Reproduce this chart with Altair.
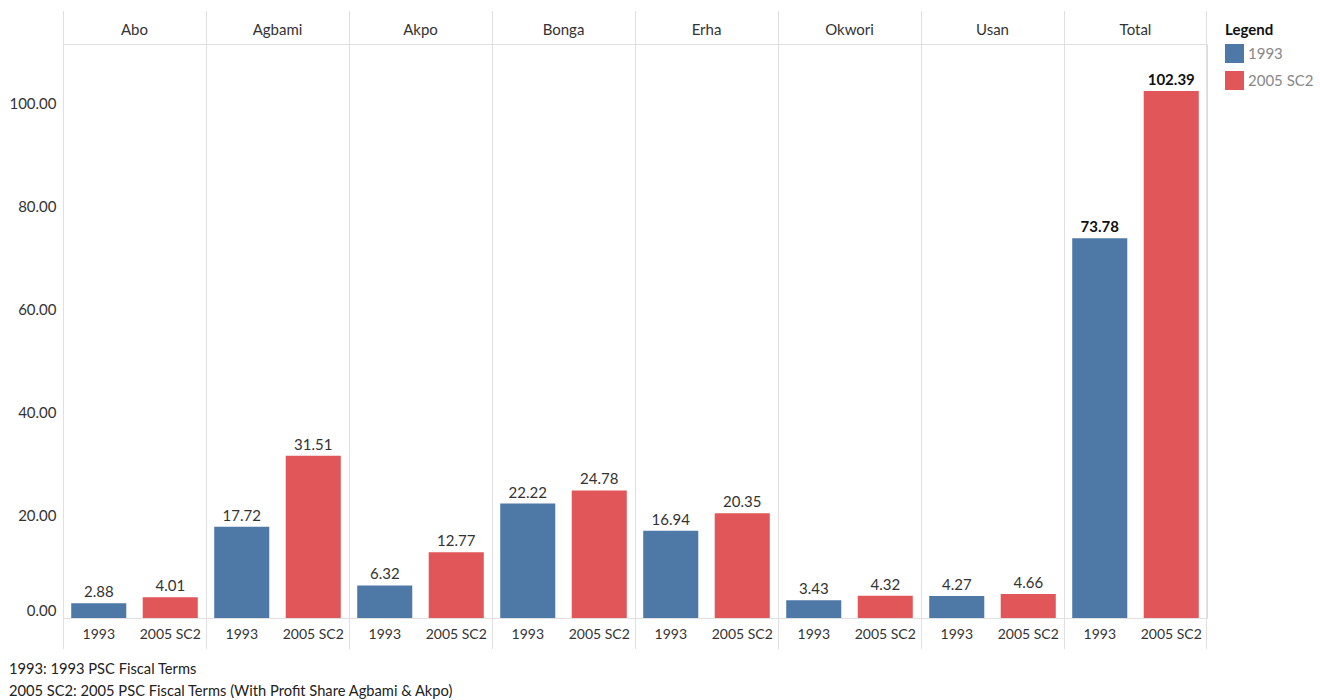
import altair as alt
import pandas as pd

fields = ["Abo", "Agbami", "Akpo", "Bonga", "Erha", "Okwori", "Usan", "Total"]
terms = ["1993", "2005 SC2"]
values_1993 = [2.88, 17.72, 6.32, 22.22, 16.94, 3.43, 4.27, 73.78]
values_2005 = [4.01, 31.51, 12.77, 24.78, 20.35, 4.32, 4.66, 102.39]
colors = ["#4E79A7", "#E15759"]
y_ticks = [0, 20, 40, 60, 80, 100]
footnotes = [
    "1993: 1993 PSC Fiscal Terms",
    "2005 SC2: 2005 PSC Fiscal Terms (With Profit Share Agbami & Akpo)",
]

rows = []
for f, a, b in zip(fields, values_1993, values_2005):
    rows.append({"field": f, "term": terms[0], "value": a})
    rows.append({"field": f, "term": terms[1], "value": b})
df = pd.DataFrame(rows)

FONT = "Lato"
W, H = 143, 574
GRID = "#e0e0e0"

xenc = alt.X("term:N", sort=terms, title=None,
             scale=alt.Scale(paddingInner=0.23, paddingOuter=0.115), axis=None)

base = alt.Chart().encode(
    x=xenc,
    y=alt.Y(
        "value:Q",
        title=None,
        scale=alt.Scale(domain=[0, 111.5], nice=False),
        axis=alt.Axis(format=".2f", values=y_ticks, grid=False, ticks=False, domain=False,
                      labelFontSize=15, labelFlush=True, labelColor="#333", labelPadding=7),
    ),
)

bars = base.mark_bar().encode(
    color=alt.Color(
        "term:N",
        scale=alt.Scale(domain=terms, range=colors),
        legend=alt.Legend(title="Legend", symbolType="square", symbolSize=360,
                          titleFontSize=15, titleFontWeight="bold", titleColor="#111",
                          labelFontSize=15, labelColor="#888", orient="none",
                          legendX=1162, legendY=-21, padding=0, rowPadding=8,
                          titlePadding=6, symbolStrokeWidth=0),
    )
)
labels = base.mark_text(dy=-11, fontSize=15, color="#333", font=FONT).encode(
    text=alt.Text("value:Q", format=".2f")
).transform_filter("datum.field != 'Total'")
labels_total = base.mark_text(dy=-11, fontSize=15, color="#111", fontWeight="bold", font=FONT).encode(
    text=alt.Text("value:Q", format=".2f")
).transform_filter("datum.field == 'Total'")

x_labels = alt.Chart().mark_text(fontSize=14, color="#333", font=FONT).encode(
    x=xenc, y=alt.value(H + 17), text="term:N"
)
head_labels = alt.Chart().mark_text(fontSize=15, color="#333", font=FONT).encode(
    x=alt.value(W / 2), y=alt.value(-14), text="field:N"
).transform_filter("datum.term == '1993'")

sep_left = alt.Chart().mark_rule(color=GRID, strokeWidth=1).encode(
    x=alt.value(0.5), y=alt.value(-33), y2=alt.value(H + 31)
).transform_filter("datum.term == '1993'")
sep_right = alt.Chart().mark_rule(color=GRID, strokeWidth=1).encode(
    x=alt.value(W - 0.5), y=alt.value(-33), y2=alt.value(H + 31)
).transform_filter("datum.term == '1993' && datum.field == 'Total'")
top_line = alt.Chart().mark_rule(color=GRID, strokeWidth=1).encode(
    x=alt.value(0), x2=alt.value(W), y=alt.value(0.5)
).transform_filter("datum.term == '1993'")
bottom_line = alt.Chart().mark_rule(color=GRID, strokeWidth=1).encode(
    x=alt.value(0), x2=alt.value(W), y=alt.value(H + 0.5)
).transform_filter("datum.term == '1993'")

chart = (
    alt.layer(sep_left, sep_right, top_line, bottom_line,
              bars, labels, labels_total, x_labels, head_labels, data=df)
    .properties(width=W, height=H)
    .facet(
        column=alt.Column("field:N", sort=fields,
                          header=alt.Header(title=None, labels=False)),
        spacing=0,
        bounds="flush",
    )
    .properties(
        title=alt.TitleParams(text=footnotes, orient="bottom", anchor="start",
                              fontSize=14.7, fontWeight="normal", color="#222",
                              offset=12, lineHeight=22),
        padding={"left": 8, "top": 10, "right": 2, "bottom": 0},
    )
    .configure_view(stroke=None)
    .configure(font=FONT)
)

chart.save("out.html", embed_options={"renderer": "svg", "actions": False})
